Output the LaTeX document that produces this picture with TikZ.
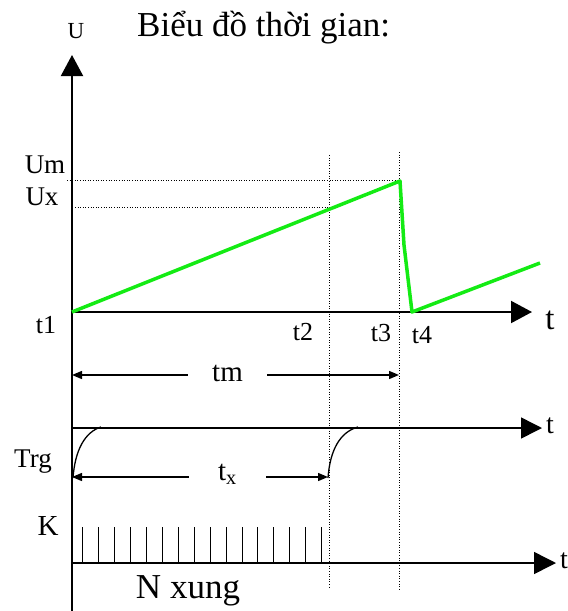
\documentclass[tikz,border=0pt]{standalone}
\usepackage{fontspec}
\setmainfont{Liberation Serif}
\usetikzlibrary{arrows.meta}
\definecolor{grn}{RGB}{20,235,20}
\begin{document}
\begin{tikzpicture}[x=1pt,y=-1pt,
  axisarrow/.style={line width=2pt, -{Triangle[length=21pt,width=22pt]}},
  dimarrow/.style={line width=1.4pt, -{Triangle[length=10pt,width=8pt]}},
  dotline/.style={line width=0.9pt, dash pattern=on 1pt off 1.6pt},
  lbl/.style={inner sep=0pt, font=\fontsize{26}{30}\selectfont},
  biglbl/.style={inner sep=0pt, font=\fontsize{35}{42}\selectfont},
  pulse/.style={line width=1pt},
  sig/.style={line width=1.3pt},
  ramp/.style={line width=3.5pt, grn, line join=round}
]
\useasboundingbox (0,0) rectangle (568,611);

% axes
\coordinate (O) at (72,611);
\coordinate (Utop) at (72,55);
\draw[axisarrow] (O) -- (Utop);
\coordinate (A1s) at (72,312);
\coordinate (A1e) at (532,312);
\draw[axisarrow] (A1s) -- (A1e);
\coordinate (A2s) at (72,428);
\coordinate (A2e) at (542,428);
\draw[line width=1.5pt, -{Triangle[length=21pt,width=21pt]}] (A2s) -- (A2e);
\coordinate (A3s) at (72,563);
\coordinate (A3e) at (556,563);
\draw[line width=1.5pt, -{Triangle[length=22pt,width=22pt]}] (A3s) -- (A3e);

% texts
\node[lbl, font=\fontsize{23}{26}\selectfont] (U) at (76,31) {U};
\node[biglbl, anchor=base west] (title) at (137,36) {Biểu đồ thời gian:};
\node[lbl, font=\fontsize{27}{30}\selectfont] (Um) at (45,165) {Um};
\node[lbl, font=\fontsize{27}{30}\selectfont] (Ux) at (42,197) {Ux};
\node[lbl] (t1) at (46,325) {t1};
\node[lbl] (t2) at (303,332) {t2};
\node[lbl] (t3) at (381,333) {t3};
\node[lbl] (t4) at (422,335) {t4};
\node[lbl, font=\fontsize{33}{36}\selectfont] (ta) at (550,320) {t};
\node[lbl, font=\fontsize{28}{32}\selectfont] (tb) at (550,426) {t};
\node[lbl, font=\fontsize{28}{32}\selectfont] (tc) at (564,561) {t};
\node[lbl, font=\fontsize{27}{30}\selectfont] (Trg) at (33,462) {Trg};
\node[lbl, font=\fontsize{29}{32}\selectfont] (K) at (48,526) {K};
\node[biglbl] (N) at (188,591) {N xung};

% dotted guides
\coordinate (UmL) at (67,180);
\coordinate (UmR) at (400,180);
\coordinate (UxL) at (75,207);
\coordinate (UxR) at (329,207);
\draw[dotline] (UmL) -- (UmR);
\draw[dotline] (UxL) -- (UxR);
\coordinate (v2t) at (329,155);
\coordinate (v2b) at (329,588);
\coordinate (v3t) at (399,152);
\coordinate (v3b) at (399,591);
\draw[dotline] (v2t) -- (v2b);
\draw[dotline] (v3t) -- (v3b);

% green ramp
\coordinate (g0) at (72,312);
\coordinate (g1) at (400,181);
\coordinate (g2) at (404,245);
\coordinate (g3) at (412,312);
\coordinate (g4) at (540,263);
\draw[ramp] (g0) -- (g1) -- (g2) -- (g3) -- (g4);

% tm dimension
\node[lbl, font=\fontsize{29}{32}\selectfont, minimum width=79pt] (tm) at (227.5,373) {tm};
\coordinate (tmL) at (72,375);
\coordinate (tmR) at (399,375);
\draw[dimarrow] (tm.west |- tmL) -- (tmL);
\draw[dimarrow] (tm.east |- tmR) -- (tmR);

% tx dimension
\node[lbl, font=\fontsize{29}{32}\selectfont, minimum width=77pt] (tx) at (227.5,474) {t\textsubscript{x}};
\coordinate (txL) at (72,477);
\coordinate (txR) at (328,477);
\draw[dimarrow] (tx.west |- txL) -- (txL);
\draw[dimarrow] (tx.east |- txR) -- (txR);

% trigger curves
\coordinate (c1s) at (73,478);
\coordinate (c1e) at (101,427);
\draw[sig] (c1s) .. controls (75,450) and (85,432) .. (c1e);
\coordinate (c2s) at (328,478);
\coordinate (c2e) at (358,427);
\draw[sig] (c2s) .. controls (330,450) and (340,432) .. (c2e);

% pulses
\foreach \i in {0,...,15} {
  \coordinate (pt\i) at ({82.6+15.94*\i},527);
  \coordinate (pb\i) at ({82.6+15.94*\i},563);
  \draw[pulse] (pt\i) -- (pb\i);
}
\end{tikzpicture}
\end{document}
